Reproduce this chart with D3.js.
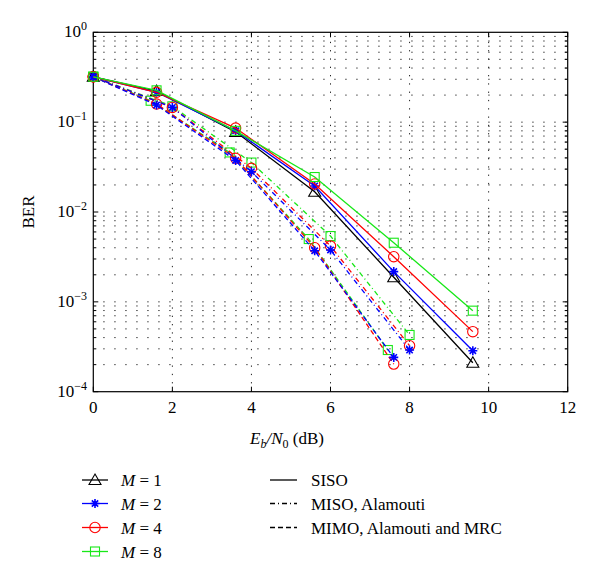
<!DOCTYPE html>
<html><head><meta charset="utf-8">
<script src="https://cdnjs.cloudflare.com/ajax/libs/d3/7.8.5/d3.min.js"></script>
<style>body{margin:0;background:#fff}svg{display:block}text{font-family:"Liberation Serif","DejaVu Serif",serif;fill:#000}</style>
</head><body><svg id="c" width="600" height="580"></svg>
<script>
// ---- data ----
const xTicks = [0, 2, 4, 6, 8, 10, 12];
const yDecades = [1e-4, 1e-3, 1e-2, 1e-1, 1];
const yTickExp = ["\u22124", "\u22123", "\u22122", "\u22121", "0"];

const sisoSNR = [0, 1.6, 3.6, 5.6, 7.6, 9.6];
const sisoM1 = [0.32, 0.222, 0.078, 0.0168, 0.00188, 0.00021];
const sisoM2 = [0.32, 0.215, 0.080, 0.0195, 0.00217, 0.000286];
const sisoM4 = [0.32, 0.215, 0.086, 0.0205, 0.00318, 0.000466];
const sisoM8 = [0.32, 0.226, 0.080, 0.0245, 0.00455, 0.000798];

const misoSNR = [0, 2, 4, 6, 8];
const misoM2 = [0.32, 0.146, 0.0281, 0.00378, 0.000291];
const misoM4 = [0.32, 0.146, 0.0306, 0.00418, 0.000325];
const misoM8 = [0.32, 0.150, 0.0355, 0.0054, 0.000428];

const mimoSNR = [0, 1.6, 3.6, 5.6, 7.6];
const mimoSNR8 = [0, 1.45, 3.45, 5.45, 7.45];
const mimoM2 = [0.32, 0.155, 0.0375, 0.0037, 0.000241];
const mimoM4 = [0.32, 0.159, 0.0396, 0.0040, 0.000203];
const mimoM8 = [0.32, 0.173, 0.046, 0.0050, 0.000291];

const mLabels = ["1", "2", "4", "8"];
const schemeLabels = ["SISO", "MISO, Alamouti", "MIMO, Alamouti and MRC"];

// ---- styles ----
const colors = {1: "#000000", 2: "#0000ff", 4: "#ff0000", 8: "#18e818"};
const markers = {1: "tri", 2: "star", 4: "circ", 8: "sq"};
const dashes = {siso: null, miso: "5,3,1,3", mimo: "5,3"};

const series = [
  {s: "mimo", m: 8, x: mimoSNR8, y: mimoM8},
  {s: "mimo", m: 4, x: mimoSNR, y: mimoM4},
  {s: "mimo", m: 2, x: mimoSNR, y: mimoM2},
  {s: "miso", m: 8, x: misoSNR, y: misoM8},
  {s: "miso", m: 4, x: misoSNR, y: misoM4},
  {s: "miso", m: 2, x: misoSNR, y: misoM2},
  {s: "siso", m: 1, x: sisoSNR, y: sisoM1},
  {s: "siso", m: 2, x: sisoSNR, y: sisoM2},
  {s: "siso", m: 4, x: sisoSNR, y: sisoM4},
  {s: "siso", m: 8, x: sisoSNR, y: sisoM8}
];

const L = 93.3, R = 567.7, T = 32.3, B = 391.7;
const x = d3.scaleLinear().domain([0, 12]).range([L, R]);
const y = d3.scaleLog().domain([1e-4, 1]).range([B, T]);
const svg = d3.select("#c");

// grid
const minorVals = [];
for (let e = -4; e < 0; e++) for (let k = 1; k <= 9; k++) minorVals.push(k * Math.pow(10, e));
const g = svg.append("g");
g.selectAll("line.h").data(minorVals.filter(v => v > 1e-4)).enter().append("line")
  .attr("x1", L + 10).attr("x2", R).attr("y1", d => y(d)).attr("y2", d => y(d))
  .attr("stroke", "#222").attr("stroke-width", 1).attr("stroke-dasharray", "1.3,9.7");
g.selectAll("line.v").data(xTicks.filter(v => v > 0 && v < 12)).enter().append("line")
  .attr("x1", d => x(d)).attr("x2", d => x(d)).attr("y1", B).attr("y2", T)
  .attr("stroke", "#222").attr("stroke-width", 1).attr("stroke-dasharray", "1.3,7");

// axes box and ticks
const ax = svg.append("g");
ax.append("rect").attr("x", L).attr("y", T).attr("width", R - L).attr("height", B - T)
  .attr("fill", "none").attr("stroke", "#000").attr("stroke-width", 1.2);
xTicks.forEach(t => {
  ax.append("line").attr("x1", x(t)).attr("x2", x(t)).attr("y1", B).attr("y2", B - 5).attr("stroke", "#000");
  ax.append("line").attr("x1", x(t)).attr("x2", x(t)).attr("y1", T).attr("y2", T + 5).attr("stroke", "#000");
  ax.append("text").attr("x", x(t)).attr("y", 413).attr("text-anchor", "middle")
    .attr("font-size", 17).text(String(t));
});
minorVals.concat([1]).forEach(v => {
  const major = Math.abs(Math.log10(v) - Math.round(Math.log10(v))) < 1e-9;
  const len = major ? 5 : 3;
  ax.append("line").attr("x1", L).attr("x2", L + len).attr("y1", y(v)).attr("y2", y(v)).attr("stroke", "#000");
  ax.append("line").attr("x1", R).attr("x2", R - len).attr("y1", y(v)).attr("y2", y(v)).attr("stroke", "#000");
});
yDecades.forEach((v, i) => {
  const t = ax.append("text").attr("x", 87).attr("y", y(v) + 5).attr("text-anchor", "end").attr("font-size", 17);
  t.append("tspan").text("10");
  t.append("tspan").attr("dy", -7).attr("font-size", 12).text(yTickExp[i]);
});

// axis labels
svg.append("text").attr("transform", "translate(34,212) rotate(-90)").attr("text-anchor", "middle")
  .attr("font-size", 17).text("BER");
const xl = svg.append("text").attr("x", 287).attr("y", 444).attr("text-anchor", "middle").attr("font-size", 17);
xl.append("tspan").attr("font-style", "italic").text("E");
xl.append("tspan").attr("font-style", "italic").attr("font-size", 12).attr("dy", 4).text("b");
xl.append("tspan").attr("font-style", "italic").attr("dy", -4).text("/N");
xl.append("tspan").attr("font-size", 12).attr("dy", 4).text("0");
xl.append("tspan").attr("dy", -4).text(" (dB)");

// markers
function drawMarker(sel, type, cx, cy, col) {
  if (type === "tri") {
    sel.append("path").attr("d", `M${cx},${cy - 6}L${cx + 6},${cy + 4.5}L${cx - 6},${cy + 4.5}Z`)
      .attr("fill", "none").attr("stroke", col).attr("stroke-width", 1.1);
  } else if (type === "circ") {
    sel.append("circle").attr("cx", cx).attr("cy", cy).attr("r", 5.2)
      .attr("fill", "none").attr("stroke", col).attr("stroke-width", 1.1);
  } else if (type === "sq") {
    sel.append("rect").attr("x", cx - 4.5).attr("y", cy - 4.5).attr("width", 9).attr("height", 9)
      .attr("fill", "none").attr("stroke", col).attr("stroke-width", 1.1);
  } else {
    const r = 4.5, d = r * 0.707;
    const p = `M${cx - r},${cy}L${cx + r},${cy}M${cx},${cy - r}L${cx},${cy + r}` +
      `M${cx - d},${cy - d}L${cx + d},${cy + d}M${cx - d},${cy + d}L${cx + d},${cy - d}`;
    sel.append("path").attr("d", p).attr("stroke", col).attr("stroke-width", 1.6).attr("fill", "none");
  }
}

const line = d3.line().x(d => x(d[0])).y(d => y(d[1]));
const plot = svg.append("g");
series.forEach(sr => {
  const pts = sr.x.map((v, i) => [v, sr.y[i]]);
  plot.append("path").attr("d", line(pts)).attr("fill", "none")
    .attr("stroke", colors[sr.m]).attr("stroke-width", 1.3)
    .attr("stroke-dasharray", dashes[sr.s]);
  pts.forEach(p => drawMarker(plot, markers[sr.m], x(p[0]), y(p[1]), colors[sr.m]));
});

// legend
const leg = svg.append("g");
const rowY = [480, 503.5, 527.5, 551.5];
[1, 2, 4, 8].forEach((m, i) => {
  leg.append("line").attr("x1", 82).attr("x2", 108).attr("y1", rowY[i]).attr("y2", rowY[i])
    .attr("stroke", colors[m]).attr("stroke-width", 1.3);
  drawMarker(leg, markers[m], 95, rowY[i], colors[m]);
  const t = leg.append("text").attr("x", 121).attr("y", rowY[i] + 6).attr("font-size", 17);
  t.append("tspan").attr("font-style", "italic").text("M");
  t.append("tspan").text(" = " + mLabels[i]);
});
["siso", "miso", "mimo"].forEach((s, i) => {
  leg.append("line").attr("x1", 270).attr("x2", 297).attr("y1", rowY[i]).attr("y2", rowY[i])
    .attr("stroke", "#000").attr("stroke-width", 1.3).attr("stroke-dasharray", dashes[s]);
  leg.append("text").attr("x", 311).attr("y", rowY[i] + 6).attr("font-size", 17).text(schemeLabels[i]);
});
</script></body></html>
